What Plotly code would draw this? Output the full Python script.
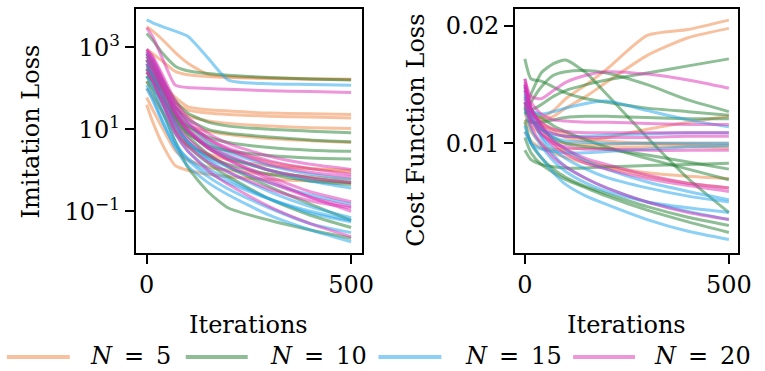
import plotly.graph_objects as go

# ---------------- data ----------------
iterations = [0, 15, 40, 70, 100, 150, 200, 300, 400, 500]

group_labels = ["N = 5", "N = 10", "N = 15", "N = 20"]

imitation_n5 = [
    [3200, 2500, 1500, 750, 420, 220, 195, 180, 170, 165],
    [900, 700, 450, 260, 215, 195, 185, 175, 170, 168],
    [300, 220, 120, 60, 36, 30, 28, 25, 24, 23],
    [250, 180, 100, 45, 30, 25, 23, 21, 20, 19],
    [200, 150, 80, 35, 22, 16, 14, 12, 11, 10.5],
    [150, 100, 50, 20, 12, 9, 7.5, 6, 5.3, 4.8],
    [100, 60, 25, 8, 4, 2.5, 1.8, 1.3, 1.1, 1.0],
    [40, 15, 4, 1.3, 1.0, 0.8, 0.7, 0.6, 0.55, 0.5],
    [500, 300, 120, 30, 12, 5, 3, 1.6, 1.1, 0.9],
    [60, 30, 10, 3, 1.8, 1.2, 1.0, 0.8, 0.7, 0.6],
]
imitation_n10 = [
    [2200, 1500, 700, 350, 270, 230, 210, 185, 170, 160],
    [600, 350, 150, 50, 25, 15, 12, 10, 9, 8.3],
    [400, 250, 100, 35, 18, 10, 8, 6.5, 5.5, 5],
    [300, 200, 80, 25, 12, 6.5, 4.8, 3.6, 3.1, 2.9],
    [250, 150, 60, 18, 8, 4, 3, 2.3, 2.0, 1.9],
    [500, 300, 100, 25, 9, 3.5, 2, 1.0, 0.65, 0.5],
    [350, 200, 60, 14, 5, 2.2, 1.4, 0.8, 0.55, 0.45],
    [150, 80, 25, 5, 1.2, 0.3, 0.12, 0.06, 0.035, 0.022],
    [200, 120, 40, 10, 4, 1.5, 0.7, 0.2, 0.08, 0.04],
    [700, 400, 120, 20, 7, 2.5, 1.2, 0.4, 0.15, 0.06],
]
imitation_n15 = [
    [4700, 4000, 3200, 2500, 1900, 550, 160, 130, 125, 120],
    [700, 400, 120, 25, 10, 4, 2.2, 1.0, 0.55, 0.37],
    [500, 250, 70, 15, 5, 1.8, 0.9, 0.3, 0.13, 0.07],
    [300, 150, 40, 8, 3, 1.1, 0.6, 0.2, 0.09, 0.055],
    [200, 100, 25, 5, 1.8, 0.7, 0.35, 0.12, 0.05, 0.03],
    [120, 60, 15, 3.5, 1.3, 0.5, 0.25, 0.08, 0.035, 0.018],
    [800, 500, 150, 35, 14, 5, 2.8, 1.3, 0.8, 0.6],
    [100, 50, 14, 4, 2, 0.9, 0.5, 0.2, 0.1, 0.06],
    [400, 200, 60, 12, 5, 2, 1.2, 0.5, 0.25, 0.15],
]
imitation_n20 = [
    [3000, 1800, 500, 120, 105, 100, 95, 88, 84, 80],
    [900, 600, 200, 50, 20, 8, 4.5, 2.2, 1.4, 1.05],
    [700, 450, 150, 35, 14, 6, 3.5, 1.7, 1.1, 0.8],
    [500, 300, 100, 25, 10, 4, 2.3, 1.0, 0.65, 0.5],
    [600, 350, 110, 25, 9, 3.5, 1.8, 0.7, 0.3, 0.17],
    [400, 250, 70, 15, 6, 2.4, 1.3, 0.5, 0.22, 0.13],
    [800, 450, 130, 28, 10, 3.5, 1.8, 0.6, 0.22, 0.1],
    [300, 150, 40, 8, 3, 1, 0.45, 0.13, 0.05, 0.024],
    [900, 550, 170, 40, 16, 6, 3.2, 1.4, 0.9, 0.7],
    [250, 150, 45, 10, 4, 1.6, 0.9, 0.35, 0.18, 0.12],
]

cost_n5 = [
    [0.0135, 0.0125, 0.0122, 0.0128, 0.0138, 0.0150, 0.0163, 0.0192, 0.0197, 0.0205],
    [0.0132, 0.0124, 0.0120, 0.0123, 0.0130, 0.0140, 0.0152, 0.0175, 0.0190, 0.0198],
    [0.0140, 0.0128, 0.0118, 0.0110, 0.0105, 0.0102, 0.0105, 0.0112, 0.0118, 0.0123],
    [0.0125, 0.0115, 0.0108, 0.0102, 0.0100, 0.0099, 0.0099, 0.0100, 0.0100, 0.0100],
    [0.0150, 0.0130, 0.0115, 0.0100, 0.0092, 0.0085, 0.0080, 0.0072, 0.0066, 0.0062],
    [0.0120, 0.0110, 0.0100, 0.0092, 0.0088, 0.0083, 0.0080, 0.0075, 0.0072, 0.0070],
    [0.0110, 0.0102, 0.0096, 0.0095, 0.0095, 0.0096, 0.0096, 0.0097, 0.0097, 0.0096],
    [0.0130, 0.0120, 0.0115, 0.0112, 0.0108, 0.0104, 0.0102, 0.0100, 0.0099, 0.0098],
]
cost_n10 = [
    [0.0172, 0.0155, 0.0153, 0.0148, 0.0143, 0.0138, 0.0135, 0.0130, 0.0127, 0.0124],
    [0.0130, 0.0142, 0.0160, 0.0168, 0.0171, 0.0160, 0.0142, 0.0105, 0.0070, 0.0041],
    [0.0125, 0.0128, 0.0133, 0.0140, 0.0145, 0.0150, 0.0154, 0.0160, 0.0166, 0.0172],
    [0.0125, 0.0135, 0.0148, 0.0158, 0.0161, 0.0162, 0.0160, 0.0150, 0.0137, 0.0127],
    [0.0120, 0.0118, 0.0118, 0.0120, 0.0122, 0.0123, 0.0123, 0.0122, 0.0121, 0.0121],
    [0.0094, 0.0086, 0.0082, 0.0080, 0.0079, 0.0079, 0.0080, 0.0081, 0.0082, 0.0083],
    [0.0130, 0.0120, 0.0112, 0.0105, 0.0100, 0.0097, 0.0095, 0.0090, 0.0084, 0.0078],
    [0.0118, 0.0100, 0.0088, 0.0078, 0.0071, 0.0063, 0.0057, 0.0046, 0.0037, 0.0030],
    [0.0105, 0.0092, 0.0082, 0.0075, 0.0069, 0.0062, 0.0055, 0.0043, 0.0033, 0.0024],
    [0.0135, 0.0128, 0.0122, 0.0115, 0.0110, 0.0103, 0.0097, 0.0087, 0.0078, 0.0069],
]
cost_n15 = [
    [0.0115, 0.0100, 0.0088, 0.0075, 0.0065, 0.0055, 0.0048, 0.0035, 0.0025, 0.0018],
    [0.0140, 0.0128, 0.0125, 0.0127, 0.0130, 0.0134, 0.0136, 0.0128, 0.0120, 0.0114],
    [0.0135, 0.0120, 0.0112, 0.0108, 0.0106, 0.0106, 0.0107, 0.0108, 0.0109, 0.0109],
    [0.0145, 0.0125, 0.0112, 0.0105, 0.0102, 0.0101, 0.0100, 0.0100, 0.0100, 0.0100],
    [0.0148, 0.0130, 0.0115, 0.0103, 0.0095, 0.0085, 0.0078, 0.0067, 0.0059, 0.0052],
    [0.0142, 0.0122, 0.0107, 0.0095, 0.0087, 0.0078, 0.0071, 0.0062, 0.0055, 0.0050],
    [0.0150, 0.0125, 0.0105, 0.0090, 0.0080, 0.0070, 0.0062, 0.0050, 0.0042, 0.0035],
    [0.0130, 0.0112, 0.0098, 0.0085, 0.0076, 0.0066, 0.0059, 0.0050, 0.0045, 0.0041],
    [0.0110, 0.0100, 0.0095, 0.0093, 0.0092, 0.0092, 0.0093, 0.0095, 0.0097, 0.0098],
]
cost_n20 = [
    [0.0155, 0.0140, 0.0138, 0.0145, 0.0152, 0.0158, 0.0161, 0.0159, 0.0154, 0.0147],
    [0.0152, 0.0135, 0.0125, 0.0120, 0.0119, 0.0118, 0.0118, 0.0117, 0.0116, 0.0116],
    [0.0148, 0.0128, 0.0118, 0.0112, 0.0110, 0.0109, 0.0109, 0.0109, 0.0109, 0.0109],
    [0.0155, 0.0130, 0.0115, 0.0108, 0.0106, 0.0105, 0.0105, 0.0105, 0.0106, 0.0106],
    [0.0138, 0.0120, 0.0108, 0.0100, 0.0097, 0.0095, 0.0095, 0.0094, 0.0094, 0.0094],
    [0.0150, 0.0130, 0.0115, 0.0102, 0.0095, 0.0087, 0.0082, 0.0073, 0.0066, 0.0062],
    [0.0145, 0.0125, 0.0110, 0.0098, 0.0091, 0.0083, 0.0078, 0.0070, 0.0064, 0.0059],
    [0.0135, 0.0115, 0.0100, 0.0088, 0.0080, 0.0070, 0.0062, 0.0050, 0.0041, 0.0035],
]

imitation_ticks = [0.1, 10, 1000]
imitation_ticktext = ["10<sup>\u22121</sup>", "10<sup>1</sup>", "10<sup>3</sup>"]
cost_ticks = [0.01, 0.02]
cost_ticktext = ["0.01", "0.02"]
iter_ticks = [0, 500]

# ---------------- style ----------------
colors = ["rgba(239,131,65,0.5)", "rgba(29,125,45,0.5)",
          "rgba(25,161,235,0.5)", "rgba(221,45,181,0.5)"]
FONT = "DejaVu Serif"
FS = 24
W, H = 765, 371

fig = go.Figure()

imit_groups = [imitation_n5, imitation_n10, imitation_n15, imitation_n20]
cost_groups = [cost_n5, cost_n10, cost_n15, cost_n20]

for gi, curves in enumerate(imit_groups):
    for c in curves:
        fig.add_trace(go.Scatter(x=iterations, y=c, mode="lines", xaxis="x", yaxis="y",
                                 line=dict(color=colors[gi], width=3, shape="spline", smoothing=0.6),
                                 showlegend=False, hoverinfo="skip"))
for gi, curves in enumerate(cost_groups):
    for c in curves:
        fig.add_trace(go.Scatter(x=iterations, y=c, mode="lines", xaxis="x2", yaxis="y2",
                                 line=dict(color=colors[gi], width=3, shape="spline", smoothing=0.6),
                                 showlegend=False, hoverinfo="skip"))

axis_common = dict(showline=True, linecolor="black", linewidth=2, mirror=True,
                   ticks="outside", ticklen=9, tickwidth=2, tickcolor="black",
                   showgrid=False, zeroline=False,
                   tickfont=dict(family=FONT, size=FS, color="black"))

def px_x(p):
    return p / W

def px_y(p):
    return (H - p) / H

ydom = [px_y(253), px_y(9)]

fig.update_layout(
    width=W, height=H,
    margin=dict(l=0, r=0, t=0, b=0),
    paper_bgcolor="white", plot_bgcolor="white",
    showlegend=False,
    font=dict(family=FONT, size=FS, color="black"),
    xaxis=dict(domain=[px_x(138), px_x(368)], range=[-27, 526], anchor="y",
               tickmode="array", tickvals=iter_ticks, **axis_common),
    yaxis=dict(domain=ydom, type="log", range=[-2.02, 3.94], anchor="x",
               tickmode="array", tickvals=imitation_ticks, ticktext=imitation_ticktext,
               **axis_common),
    xaxis2=dict(domain=[px_x(524), px_x(751)], range=[-24, 523], anchor="y2",
                tickmode="array", tickvals=iter_ticks, **axis_common),
    yaxis2=dict(domain=ydom, range=[0.00065, 0.02145], anchor="x2",
                tickmode="array", tickvals=cost_ticks, ticktext=cost_ticktext,
                **axis_common),
)

annotations = [
    dict(text="Imitation Loss", x=px_x(32), y=px_y(131), textangle=-90),
    dict(text="Cost Function Loss", x=px_x(423), y=px_y(130), textangle=-90),
    dict(text="Iterations", x=px_x(253), y=px_y(325)),
    dict(text="Iterations", x=px_x(637), y=px_y(325)),
]
for a in annotations:
    a.update(xref="paper", yref="paper", showarrow=False, xanchor="center", yanchor="middle",
             font=dict(family=FONT, size=FS, color="black"))
    fig.add_annotation(**a)

# legend (drawn manually to match long line samples)
legend_line_x = [(7, 71), (189, 252), (385, 449), (583, 646)]
legend_text_x = [90, 273, 471, 663]
legend_y = 357
for gi, lab in enumerate(group_labels):
    x0, x1 = legend_line_x[gi]
    fig.add_shape(type="line", xref="paper", yref="paper",
                  x0=px_x(x0), x1=px_x(x1), y0=px_y(legend_y), y1=px_y(legend_y),
                  line=dict(color=colors[gi], width=4))
    num = lab.split("=")[1].strip()
    fig.add_annotation(text="<i>N</i>\u2002=\u2002" + num, xref="paper", yref="paper",
                       x=px_x(legend_text_x[gi]), y=px_y(legend_y - 1),
                       xanchor="left", yanchor="middle", showarrow=False,
                       font=dict(family=FONT, size=FS, color="black"))

fig.write_html("out.html", config={"displayModeBar": False},
               post_script="document.body.style.margin='0';document.body.style.overflow='hidden';")
